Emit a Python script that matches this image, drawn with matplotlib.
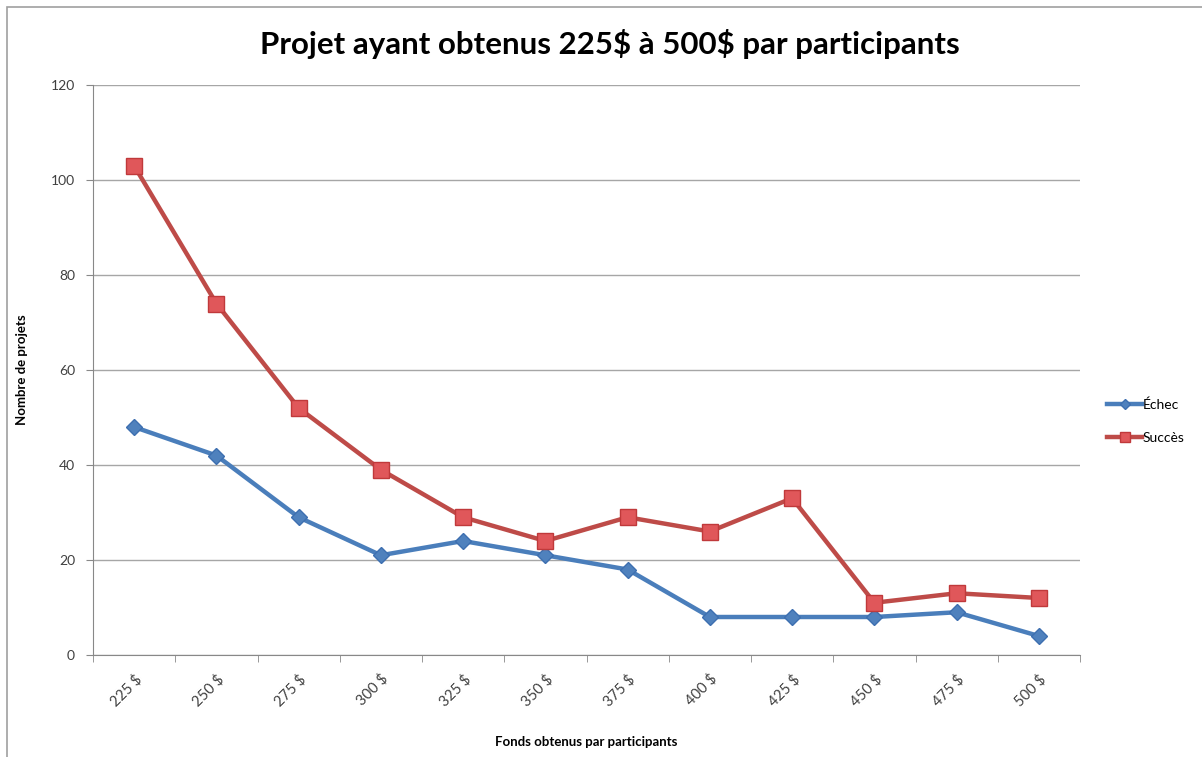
import matplotlib
matplotlib.use("Agg")
import matplotlib.pyplot as plt
import numpy as np
from matplotlib.patches import Rectangle

plt.rcParams['font.family'] = ['Lato', 'DejaVu Sans']

# data
categories = ['225 $', '250 $', '275 $', '300 $', '325 $', '350 $',
              '375 $', '400 $', '425 $', '450 $', '475 $', '500 $']
echec = [48, 42, 29, 21, 24, 21, 18, 8, 8, 8, 9, 4]
succes = [103, 74, 52, 39, 29, 24, 29, 26, 33, 11, 13, 12]

W, H = 1202, 757
fig = plt.figure(figsize=(W / 100, H / 100), dpi=100)

# outer chart frame (goes off the right / bottom edge)
fig.patches.append(Rectangle((7 / W, -0.05), 1.1, 1 - 7 / H + 0.05,
                             transform=fig.transFigure, fill=False,
                             edgecolor='#a0a0a0', linewidth=1.2))

ax = fig.add_axes([93 / W, 1 - 655 / H, (1080 - 93) / W, (655 - 85) / H])

x = np.arange(len(categories))
ax.plot(x, echec, color='#4a7ebb', linewidth=3.2, marker='D', markersize=8,
        markerfacecolor='#4f81bd', markeredgecolor='#3d6fb0', label='Échec',
        zorder=3)
ax.plot(x, succes, color='#be4b48', linewidth=3.2, marker='s', markersize=11,
        markerfacecolor='#e0575a', markeredgecolor='#c0393b', label='Succès',
        zorder=3)

ax.set_xlim(-0.5, len(categories) - 0.5)
ax.set_ylim(0, 120)
ax.set_yticks(range(0, 121, 20))
ax.yaxis.grid(True, color='#a6a6a6', linewidth=1.0)
ax.set_axisbelow(True)

ax.set_xticks(x)
ax.set_xticklabels(categories, rotation=45, ha='right', rotation_mode='anchor',
                   fontsize=10.5, color='#404040')
ax.set_xticks(np.arange(-0.5, len(categories)), minor=True)
ax.tick_params(axis='x', which='major', length=0, pad=12)
ax.tick_params(axis='x', which='minor', length=5, color='#888888')
ax.tick_params(axis='y', length=5, color='#888888', labelsize=10,
               labelcolor='#404040', pad=8)

for s in ['top', 'right']:
    ax.spines[s].set_visible(False)
ax.spines['left'].set_color('#888888')
ax.spines['bottom'].set_color('#888888')

ax.set_ylabel('Nombre de projets', fontsize=9.5, fontweight='bold', labelpad=16)
ax.set_xlabel('Fonds obtenus par participants', fontsize=9.5, fontweight='bold',
              labelpad=20)

fig.text(610 / W, 1 - 44 / H,
         'Projet ayant obtenus 225\\$ à 500\\$ par participants',
         ha='center', va='center', fontsize=22.5, fontweight='bold')

ax.legend(loc='center left', bbox_to_anchor=(1.015, 0.41), frameon=False,
          fontsize=10, handlelength=2.5, labelspacing=1.5, handletextpad=0.05,
          markerscale=0.65)

fig.savefig('out.png', dpi=100)
